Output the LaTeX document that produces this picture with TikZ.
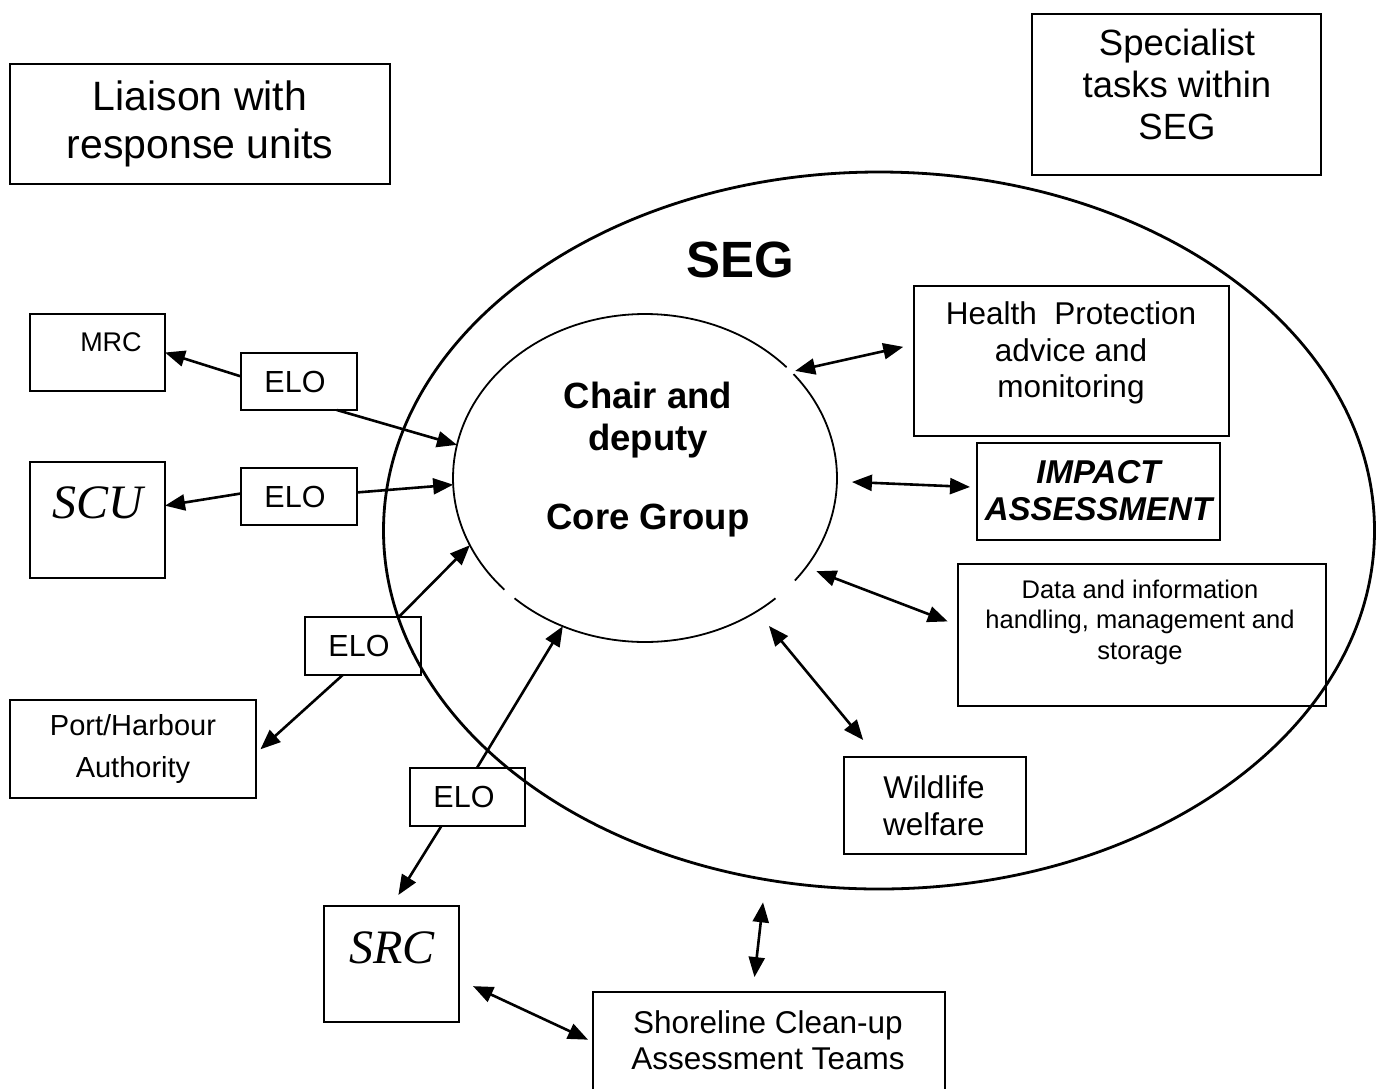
\documentclass[tikz,border=0pt]{standalone}
\usepackage{fontspec}
\setmainfont{Liberation Sans}
\newfontfamily\tnr{Liberation Serif}
\usetikzlibrary{arrows.meta,shapes.geometric}
\newcommand\myfs[2]{\fontsize{#1}{#2}\selectfont}
\begin{document}
\begin{tikzpicture}[x=1pt,y=1pt,
  box/.style={draw, line width=2pt, inner sep=0pt, outer sep=0pt, rectangle},
  lbl/.style={align=center, inner sep=0pt},
  arr/.style={line width=2.6pt, -{Triangle[length=20pt,width=16pt]}},
  darr/.style={line width=2.6pt, {Triangle[length=20pt,width=16pt]}-{Triangle[length=20pt,width=16pt]}},
  innerline/.style={line width=1.8pt}]
\useasboundingbox (0,0) rectangle (1381,-1088);
\fill[white] (0,0) rectangle (1381,-1088);

% outer SEG ellipse
\node[ellipse, draw, line width=2.8pt, minimum width=991pt, minimum height=717pt, inner sep=0pt, outer sep=0pt] (seg) at (879,-530.5) {};
\node[lbl, font=\myfs{51}{58}\bfseries] (segtxt) at (740,-260) {SEG};

% inner core ellipse (drawn as arcs with gaps)
\node[ellipse, minimum width=384pt, minimum height=328pt, inner sep=0pt, outer sep=0pt] (core) at (645,-478) {};
\draw[innerline] (core.center) ++(42.5:192pt and 164pt) arc[start angle=42.5, end angle=222.9, x radius=192pt, y radius=164pt];
\draw[innerline] (core.center) ++(227.2:192pt and 164pt) arc[start angle=227.2, end angle=312.8, x radius=192pt, y radius=164pt];
\draw[innerline] (core.center) ++(-38.7:192pt and 164pt) arc[start angle=-38.7, end angle=39.3, x radius=192pt, y radius=164pt];
\node[lbl, font=\myfs{36.5}{42}\bfseries] (chair) at (648,-420) {Chair and\\deputy};
\node[lbl, font=\myfs{36.5}{42}\bfseries] (coregrp) at (648,-521) {Core Group};

% boxes
\node[box, minimum width=380pt, minimum height=120pt] (liaison) at (200,-124) {};
\node[lbl, font=\myfs{41}{48}] (liaisontxt) at (200,-124) {Liaison with\\response units};

\node[box, minimum width=289pt, minimum height=161pt] (spec) at (1176.5,-94.5) {};
\node[lbl, font=\myfs{36.5}{42}] (spectxt) at (1177,-84) {Specialist\\tasks within\\SEG};

\node[box, minimum width=135pt, minimum height=77pt] (mrc) at (97.5,-352.5) {};
\node[lbl, font=\myfs{27}{31}] (mrctxt) at (111,-342) {MRC};

\node[box, minimum width=116pt, minimum height=57pt] (elo1) at (299,-381.5) {};
\node[lbl, font=\myfs{30.5}{35}] (elo1txt) at (295,-382) {ELO};

\node[box, minimum width=135pt, minimum height=116pt] (scu) at (97.5,-520) {};
\node[lbl, font=\myfs{48}{55}\tnr\itshape] (scutxt) at (98,-503) {SCU};

\node[box, minimum width=116pt, minimum height=57pt] (elo2) at (299,-496.5) {};
\node[lbl, font=\myfs{30.5}{35}] (elo2txt) at (295,-497) {ELO};

\node[box, minimum width=116pt, minimum height=58pt] (elo3) at (363,-646) {};
\node[lbl, font=\myfs{30.5}{35}] (elo3txt) at (359,-646) {ELO};

\node[box, minimum width=246pt, minimum height=98pt] (port) at (133,-749) {};
\node[lbl, font=\myfs{29}{42}] (porttxt) at (133,-749) {Port/Harbour\\Authority};

\node[box, minimum width=115pt, minimum height=58pt] (elo4) at (467.5,-797) {};
\node[lbl, font=\myfs{30.5}{35}] (elo4txt) at (464,-797) {ELO};

\node[box, minimum width=135pt, minimum height=116pt] (src) at (391.5,-964) {};
\node[lbl, font=\myfs{48}{55}\tnr\itshape] (srctxt) at (392,-948) {SRC};

\node[box, minimum width=352pt, minimum height=100pt] (shore) at (769,-1042) {};
\node[lbl, font=\myfs{31.5}{36}] (shoretxt) at (768,-1040) {Shoreline Clean-up\\Assessment Teams};

\node[box, minimum width=315pt, minimum height=150pt] (health) at (1071.5,-361) {};
\node[lbl, font=\myfs{31.5}{36.5}] (healthtxt) at (1071,-353) {Health~~Protection\\advice and\\monitoring};

\node[box, minimum width=243pt, minimum height=97pt] (impact) at (1098.5,-491.5) {};
\node[lbl, font=\myfs{33}{37}\bfseries\itshape] (impacttxt) at (1098.5,-491) {IMPACT\\ASSESSMENT};

\node[box, minimum width=368pt, minimum height=142pt] (data) at (1142,-635) {};
\node[lbl, font=\myfs{25.5}{30.5}] (datatxt) at (1140,-622) {Data and information\\handling, management and\\storage};

\node[box, minimum width=182pt, minimum height=97pt] (wild) at (935,-805.5) {};
\node[lbl, font=\myfs{31.5}{37}] (wildtxt) at (934,-806) {Wildlife\\welfare};

% connectors
\draw[arr] (elo1.175) -- (mrc.east);
\draw[arr] (elo1.-37) -- (core.170.7);
\draw[arr] (elo2.177) -- (scu.12);
\draw[arr] (elo2.4) -- (core.182.4);
\draw[arr] (elo3.39) -- (core.201.5);
\draw[arr, shorten >=6pt] (elo3.235) -- (port.-2);
\draw[arr] (elo4.72) -- (core.241.3);
\draw[arr, shorten >=13pt] (elo4.228) -- (src.north);

\draw[darr, shorten <=4pt, shorten >=11pt] (core.36.4) -- (health.174);
\draw[darr, shorten <=15pt, shorten >=7pt] (core.-1) -- (impact.178);
\draw[darr, shorten <=11pt, shorten >=11pt] (core.-29) -- (data.177);
\draw[darr, shorten <=19pt, shorten >=22pt] (core.-50.5) -- (wild.140.6);
\draw[darr, shorten <=23pt, shorten >=15pt] (seg.252.3) -- (shore.108);
\draw[darr, shorten <=15.5pt, shorten >=5.5pt] (src.-13.6) -- (shore.180.8);
\end{tikzpicture}
\end{document}
